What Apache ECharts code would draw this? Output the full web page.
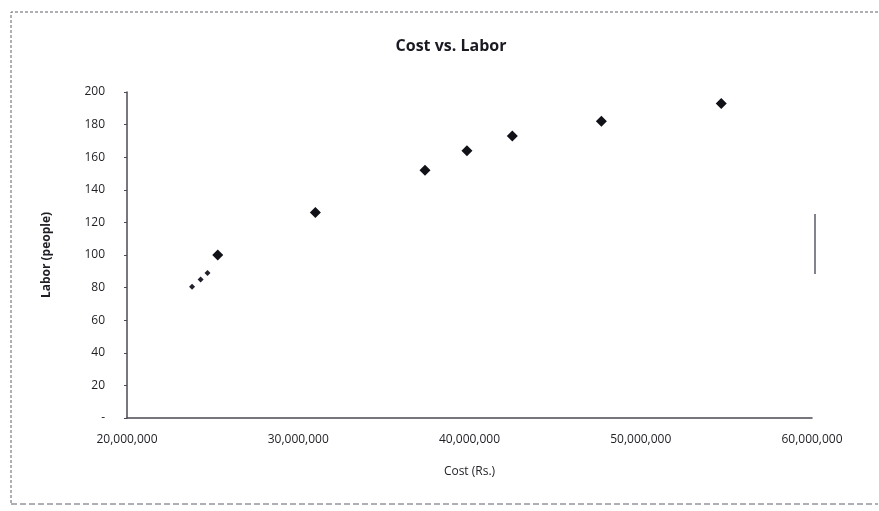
<!DOCTYPE html>
<html>
<head>
<meta charset="utf-8">
<script src="https://cdn.jsdelivr.net/npm/echarts@6/dist/echarts.min.js"></script>
<style>
  html, body { margin: 0; padding: 0; background: #ffffff; }
  #chart { width: 879px; height: 511px; }
</style>
</head>
<body>
<div id="chart"></div>
<script>
// Project cost (Rs.) against labor force (people)
const costs  = [25300000, 31000000, 37400000, 39850000, 42500000, 47700000, 54700000];
const labor  = [100, 126, 152, 164, 173, 182, 193];

// Small overlapping points near the low end
const lowCosts = [23800000, 24300000, 24700000];
const lowLabor = [80.5, 85, 89];

const xTicks = { min: 20000000, max: 60000000, step: 10000000 };
const yTicks = { min: 0, max: 200, step: 20 };

const mainPoints = costs.map((c, i) => [c, labor[i]]);
const lowPoints = lowCosts.map((c, i) => [c, lowLabor[i]]);

const fmtThousands = v => v.toString().replace(/\B(?=(\d{3})+(?!\d))/g, ',');
const font = '"Open Sans", "Liberation Sans", sans-serif';

const chart = echarts.init(document.getElementById('chart'), null, { renderer: 'canvas' });
chart.setOption({
  backgroundColor: '#ffffff',
  animation: false,
  title: {
    text: 'Cost vs. Labor',
    left: 446,
    top: 33,
    textAlign: 'center',
    textStyle: { fontFamily: font, fontSize: 16, fontWeight: 'bold', color: '#1a1a22' }
  },
  grid: { left: 127, right: 67, top: 92, bottom: 93, containLabel: false },
  xAxis: {
    type: 'value',
    min: xTicks.min,
    max: xTicks.max,
    interval: xTicks.step,
    splitLine: { show: false },
    axisLine: { show: true, lineStyle: { color: '#4a4a52', width: 1.5 } },
    axisTick: { show: false },
    axisLabel: {
      margin: 16,
      fontFamily: font,
      fontSize: 12,
      color: '#1e1e24',
      formatter: v => fmtThousands(v)
    },
    name: 'Cost (Rs.)',
    nameLocation: 'middle',
    nameGap: 48,
    nameTextStyle: { fontFamily: font, fontSize: 12, color: '#1e1e24' }
  },
  yAxis: {
    type: 'value',
    min: yTicks.min,
    max: yTicks.max,
    interval: yTicks.step,
    splitLine: { show: false },
    axisLine: { show: true, lineStyle: { color: '#4a4a52', width: 1.5 } },
    axisTick: { show: true, inside: false, length: 3, lineStyle: { color: '#4a4a52' } },
    axisLabel: {
      margin: 22,
      fontFamily: font,
      fontSize: 12,
      color: '#1e1e24',
      formatter: v => (v === 0 ? '-' : String(v))
    },
    name: 'Labor (people)',
    nameLocation: 'middle',
    nameGap: 74,
    nameRotate: 90,
    nameTextStyle: { fontFamily: font, fontSize: 12, fontWeight: 'bold', color: '#1e1e24' }
  },
  series: [
    {
      name: 'Labor',
      type: 'scatter',
      symbol: 'diamond',
      symbolSize: 11,
      itemStyle: { color: '#111118', opacity: 1 },
      data: mainPoints
    },
    {
      name: 'Labor (low)',
      type: 'scatter',
      symbol: 'diamond',
      symbolSize: 6,
      itemStyle: { color: '#22222c', opacity: 1 },
      data: lowPoints
    }
  ],
  graphic: [
    // dashed frame of the chart area
    {
      type: 'polyline',
      shape: { points: [[11, 503], [11, 12], [878, 12]] },
      style: { stroke: '#606068', lineWidth: 1, lineDash: [3, 2], fill: null }
    },
    {
      type: 'line',
      shape: { x1: 11, y1: 504, x2: 878, y2: 504 },
      style: { stroke: '#606068', lineWidth: 1, lineDash: [6, 3] }
    },
    {
      type: 'line',
      shape: { x1: 815, y1: 214, x2: 815, y2: 274 },
      style: { stroke: '#5a5a68', lineWidth: 1.5 }
    }
  ]
});
</script>
</body>
</html>
